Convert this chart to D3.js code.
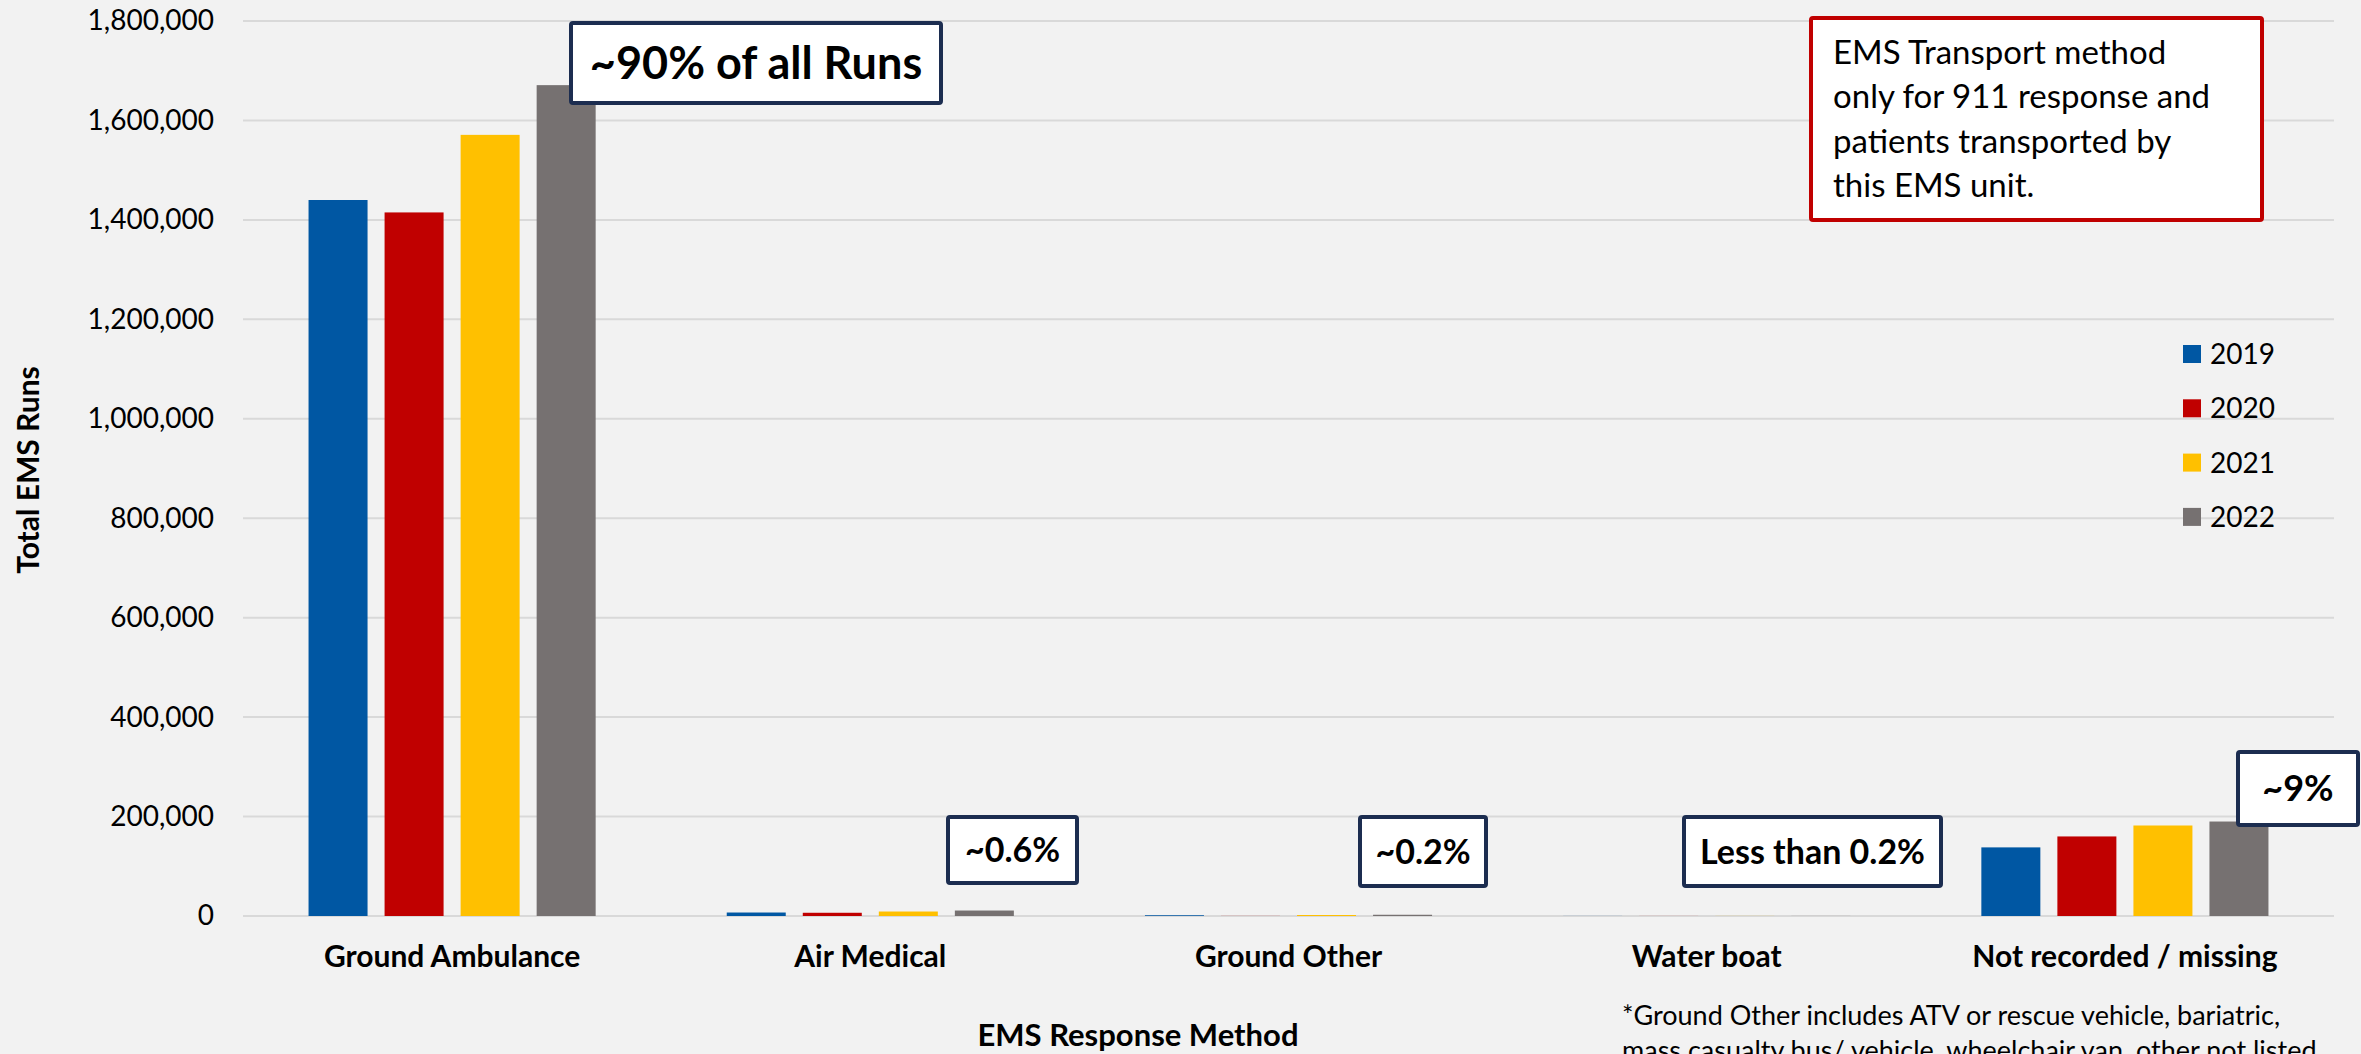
<!DOCTYPE html>
<html lang="en">
<head>
<meta charset="utf-8">
<title>EMS Runs by Response Method</title>
<script src="https://cdn.jsdelivr.net/npm/d3@7"></script>
<style>
  body { margin: 0; background: #f2f2f2; }
  svg { display: block; font-family: Lato, "Open Sans", sans-serif; }
</style>
</head>
<body>
<script>
// data
var categories = ["Ground Ambulance", "Air Medical", "Ground Other", "Water boat", "Not recorded / missing"];
var years = ["2019", "2020", "2021", "2022"];
var runs2019 = [1440000, 7000, 1500, 150, 138000];
var runs2020 = [1415000, 6500, 200, 120, 160000];
var runs2021 = [1571000, 9000, 2000, 160, 182000];
var runs2022 = [1671000, 11000, 2500, 170, 190000];
var yTicks = [0, 200000, 400000, 600000, 800000, 1000000, 1200000, 1400000, 1600000, 1800000];
var colors = ["#0057a3", "#c00000", "#ffc000", "#767171"];

var series = [runs2019, runs2020, runs2021, runs2022];

var W = 2361, H = 1054;
var margin = {top: 21, right: 27, bottom: 138, left: 243};
var w = W - margin.left - margin.right;
var h = H - margin.top - margin.bottom;

var svg = d3.select("body").append("svg")
    .attr("width", W)
    .attr("height", H);

svg.append("rect").attr("width", W).attr("height", H).attr("fill", "#f2f2f2");

var g = svg.append("g")
    .attr("transform", "translate(" + margin.left + "," + margin.top + ")");

var x0 = d3.scaleBand().domain(categories).range([0, w]).padding(0);
var x1 = d3.scaleBand().domain(years).range([0, x0.bandwidth()])
    .paddingInner(0.224).paddingOuter(0.862);
var y = d3.scaleLinear().domain([0, 1800000]).range([h, 0]);

// gridlines
g.append("g")
  .selectAll("line")
  .data(yTicks)
  .enter().append("line")
    .attr("x1", 0).attr("x2", w)
    .attr("y1", function(d) { return y(d); })
    .attr("y2", function(d) { return y(d); })
    .attr("stroke", "#d9d9d9")
    .attr("stroke-width", 2);

// y axis labels
var yAxis = d3.axisLeft(y).tickValues(yTicks).tickSize(0).tickPadding(29)
    .tickFormat(d3.format(","));
g.append("g")
    .call(yAxis)
    .call(function(s) { s.select(".domain").remove(); })
    .selectAll("text")
      .attr("font-size", 28)
      .attr("font-family", "Lato")
      .attr("fill", "#000");

// bars
var groups = g.selectAll(".grp")
    .data(categories)
  .enter().append("g")
    .attr("class", "grp")
    .attr("transform", function(d) { return "translate(" + x0(d) + ",0)"; });

groups.selectAll("rect")
    .data(function(d, i) { return years.map(function(yr, j) { return {year: yr, value: series[j][i], k: j}; }); })
  .enter().append("rect")
    .attr("x", function(d) { return x1(d.year); })
    .attr("width", x1.bandwidth())
    .attr("y", function(d) { return y(d.value); })
    .attr("height", function(d) { return h - y(d.value); })
    .attr("fill", function(d) { return colors[d.k]; });

// x axis labels
var xAxis = d3.axisBottom(x0).tickSize(0).tickPadding(30);
g.append("g")
    .attr("transform", "translate(0," + h + ")")
    .call(xAxis)
    .call(function(s) { s.select(".domain").remove(); })
    .selectAll("text")
      .attr("font-size", 30)
      .attr("font-weight", "bold")
      .attr("font-family", "Lato")
      .attr("fill", "#000");

// axis titles
svg.append("text")
    .attr("x", 1138).attr("y", 1046)
    .attr("text-anchor", "middle")
    .attr("font-size", 31).attr("font-weight", "bold")
    .text("EMS Response Method");

svg.append("text")
    .attr("transform", "translate(39,470) rotate(-90)")
    .attr("text-anchor", "middle")
    .attr("font-size", 30).attr("font-weight", "bold")
    .text("Total EMS Runs");

// legend
var legend = svg.append("g").attr("transform", "translate(2183,345)");
years.forEach(function(yr, i) {
  var row = legend.append("g").attr("transform", "translate(0," + (i * 54.3) + ")");
  row.append("rect").attr("width", 18).attr("height", 18).attr("fill", colors[i]);
  row.append("text").attr("x", 27).attr("y", 9).attr("dy", "0.36em")
      .attr("font-size", 28).text(yr);
});

// percentage call-outs
var notes = [
  {text: "~90% of all Runs", x: 571, y: 23, w: 370, h: 80, size: 45},
  {text: "~0.6%", x: 948, y: 817, w: 129, h: 66, size: 34},
  {text: "~0.2%", x: 1360, y: 817, w: 126, h: 69, size: 34},
  {text: "Less than 0.2%", x: 1684, y: 817, w: 257, h: 69, size: 34},
  {text: "~9%", x: 2238, y: 752, w: 120, h: 73, size: 36}
];
notes.forEach(function(n) {
  svg.append("rect")
      .attr("x", n.x).attr("y", n.y).attr("width", n.w).attr("height", n.h)
      .attr("rx", 2)
      .attr("fill", "#fff").attr("stroke", "#1c2d50").attr("stroke-width", 4);
  svg.append("text")
      .attr("x", n.x + n.w / 2).attr("y", n.y + n.h / 2).attr("dy", "0.36em")
      .attr("text-anchor", "middle")
      .attr("font-size", n.size).attr("font-weight", "bold")
      .text(n.text);
});

// transport note
var boxLines = ["EMS Transport method", "only for 911 response and", "patients transported by", "this EMS unit."];
svg.append("rect")
    .attr("x", 1811).attr("y", 18).attr("width", 451).attr("height", 202)
    .attr("rx", 2)
    .attr("fill", "#fff").attr("stroke", "#c00000").attr("stroke-width", 4);
svg.append("g").selectAll("text")
    .data(boxLines)
  .enter().append("text")
    .attr("x", 1833)
    .attr("y", function(d, i) { return 64 + i * 44.3; })
    .attr("font-size", 33)
    .text(function(d) { return d; });

// footnote (second line runs off the bottom, as in the original)
var footLines = ["*Ground Other includes ATV or rescue vehicle, bariatric,",
                 "mass casualty bus/ vehicle, wheelchair van, other not listed"];
svg.append("g").selectAll("text")
    .data(footLines)
  .enter().append("text")
    .attr("x", 1622)
    .attr("y", function(d, i) { return 1025 + i * 35; })
    .attr("font-size", 27)
    .text(function(d) { return d; });
</script>
</body>
</html>
